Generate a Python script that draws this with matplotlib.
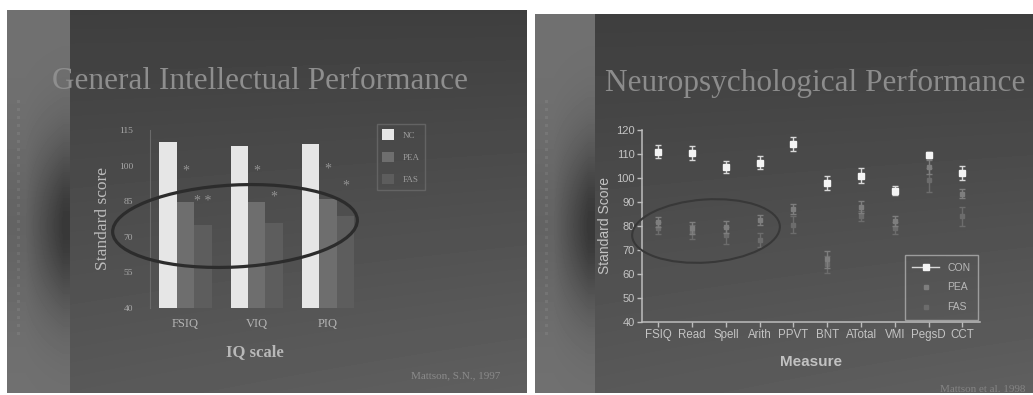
import numpy as np
import matplotlib
matplotlib.use("Agg")
from matplotlib import pyplot as plt
from matplotlib.patches import Ellipse, Patch
from matplotlib.lines import Line2D

W, H = 1033, 395
SERIF = ["Liberation Serif", "DejaVu Serif"]
SANS = ["Liberation Sans", "DejaVu Sans"]

# --- general intellectual performance (bars) ---
iq_scales = ["FSIQ", "VIQ", "PIQ"]
iq_groups = ["NC", "PEA", "FAS"]
iq_nc = [110.0, 108.2, 109.0]
iq_pea = [84.7, 84.5, 86.0]
iq_fas = [74.8, 75.7, 78.8]
iq_ticks = [40, 55, 70, 85, 100, 115]
# significance stars: (scale, group, label, height)
iq_sig = [(0, 1, "*", 97.7), (0, 2, "* *", 85.0), (1, 1, "*", 97.7),
          (1, 2, "*", 86.7), (2, 1, "*", 98.6), (2, 2, "*", 91.4)]

# --- neuropsychological performance (means +/- sem) ---
measures = ["FSIQ", "Read", "Spell", "Arith", "PPVT", "BNT", "ATotal",
            "VMI", "PegsD", "CCT"]
con_mean = [111.0, 110.3, 104.7, 106.4, 114.2, 98.0, 101.0, 94.7, 109.6, 102.0]
con_err = [2.8, 3.0, 2.5, 2.8, 3.0, 3.0, 3.0, 2.0, 1.2, 3.0]
pea_mean = [81.5, 79.0, 79.5, 82.5, 87.0, 66.0, 88.0, 82.0, 104.5, 93.5]
pea_err = [2.0, 2.5, 2.5, 2.0, 2.0, 3.5, 2.5, 2.0, 3.0, 2.0]
fas_mean = [79.0, 77.5, 76.0, 74.0, 80.5, 64.0, 84.0, 79.0, 99.0, 84.0]
fas_err = [2.5, 3.0, 3.5, 3.0, 3.5, 3.5, 2.0, 2.5, 5.0, 4.0]
np_ticks = [40, 50, 60, 70, 80, 90, 100, 110, 120]


def fx(px):
    return px / W


def fy(py):
    return 1 - py / H


def box(x0, y0, x1, y1):
    # pixel box (top-left origin) -> figure rect
    return [fx(x0), fy(y1), fx(x1) - fx(x0), fy(y0) - fy(y1)]


def slide_background():
    img = np.ones((H, W))
    yy, xx = np.mgrid[0:H, 0:W].astype(float)
    for x0, x1, y0, strip in [(7, 527, 10, 70), (535, W, 14, 595)]:
        inside = (xx >= x0) & (xx < x1) & (yy >= y0) & (yy < H - 2)
        t = (yy - y0) / (H - y0)
        main = 0.245 + 0.10 * t + 0.03 * t * (xx - x0) / (x1 - x0)
        band = np.exp(-((yy - 225) / 85) ** 2)
        ramp = np.clip((xx - (x0 + 18)) / (strip - x0 - 25), 0, 1)
        side = 0.44 - 0.05 * band - 0.17 * band * ramp
        val = np.where(xx < strip, side, main)
        img[inside] = val[inside]
        # film-strip perforations
        for yd in range(100, 340, 8):
            img[yd:yd + 3, x0 + 10:x0 + 13] += 0.04
    return img


fig = plt.figure(figsize=(W / 100, H / 100), dpi=100)
fig.patch.set_facecolor("white")

bg = fig.add_axes([0, 0, 1, 1], zorder=0)
bg.imshow(slide_background(), cmap="gray", vmin=0, vmax=1,
          extent=(0, W, H, 0), aspect="auto", interpolation="bilinear")
bg.set_xlim(0, W)
bg.set_ylim(H, 0)
bg.axis("off")

# ---------------- left chart ----------------
ax1 = fig.add_axes(box(150, 130, 360, 308), zorder=1)
ax1.patch.set_alpha(0)
x = np.arange(len(iq_scales))
bw = 0.245
bar_colors = ["#e6e6e6", "#6e6e6e", "#5d5d5d"]
for i, (vals, col) in enumerate(zip([iq_nc, iq_pea, iq_fas], bar_colors)):
    ax1.bar(x + (i - 1) * bw, vals, width=bw, color=col, label=iq_groups[i])
for gi, grp, lab, h in iq_sig:
    ax1.text(gi + (grp - 1) * bw, h, lab, ha="center", va="center",
             fontsize=10, color="#929292", family=SERIF)
ax1.set_xlim(-0.498, 2.45)
ax1.set_ylim(40, 115)
ax1.set_yticks(iq_ticks)
ax1.set_xticks(x)
ax1.set_xticklabels(iq_scales)
for s in ["top", "right", "bottom"]:
    ax1.spines[s].set_visible(False)
ax1.spines["left"].set_color("#6a6a6a")
ax1.spines["left"].set_linewidth(0.8)
ax1.tick_params(axis="y", length=0, pad=12, labelsize=6.8, labelcolor="#a8a8a8")
ax1.tick_params(axis="x", length=0, pad=7, labelsize=9, labelcolor="#b4b4b4")
for lbl in ax1.get_xticklabels() + ax1.get_yticklabels():
    lbl.set_family(SERIF)
ax1.set_xlabel("IQ scale", family=SERIF, fontsize=12, fontweight="bold",
               color="#b8b8b8", labelpad=10)
ax1.set_ylabel("Standard score", family=SERIF, fontsize=12.5,
               color="#bcbcbc", labelpad=6)

handles = [Patch(facecolor=c, edgecolor="none") for c in bar_colors]
fig.legend(handles, iq_groups, loc="upper left",
           bbox_to_anchor=(fx(377), fy(124)), borderaxespad=0,
           frameon=True, fancybox=False, edgecolor="#6a6a6a", facecolor="none",
           prop={"family": SERIF, "size": 6.5}, labelcolor="#9c9c9c",
           handlelength=1.3, handleheight=1.4, labelspacing=1.3,
           handletextpad=0.9, borderpad=0.6)

# ---------------- right chart ----------------
ax2 = fig.add_axes(box(641.7, 130, 980, 321.7), zorder=1)
ax2.patch.set_alpha(0)
xm = np.arange(len(measures))
ax2.errorbar(xm, fas_mean, yerr=fas_err, fmt="s", ms=3.5, color="#6c6c6c",
             mec="#6c6c6c", elinewidth=1.0, capsize=2, capthick=1.0, zorder=2)
ax2.errorbar(xm, pea_mean, yerr=pea_err, fmt="s", ms=3.0, color="#7e7e7e",
             mec="#7e7e7e", elinewidth=1.0, capsize=2, capthick=1.0, zorder=3)
ax2.errorbar(xm, con_mean, yerr=con_err, fmt="s", ms=4.5, color="#d8d8d8",
             mfc="#f4f4f4", mec="#f4f4f4", elinewidth=1.0, capsize=2.5,
             capthick=1.0, zorder=4)
ax2.set_xlim(-0.49, 9.52)
ax2.set_ylim(40, 120)
ax2.set_yticks(np_ticks)
ax2.set_xticks(xm)
ax2.set_xticklabels(measures)
for s in ["top", "right"]:
    ax2.spines[s].set_visible(False)
for s in ["left", "bottom"]:
    ax2.spines[s].set_color("#bdbdbd")
    ax2.spines[s].set_linewidth(1.1)
ax2.tick_params(direction="out", length=3.5, width=1.0, color="#bdbdbd",
                labelsize=8, labelcolor="#c4c4c4", pad=1.5)
ax2.tick_params(axis="x", labelsize=8.3)
for lbl in ax2.get_xticklabels() + ax2.get_yticklabels():
    lbl.set_family(SANS)
ax2.set_xlabel("Measure", family=SANS, fontsize=11, fontweight="bold",
               color="#c2c2c2", labelpad=10)
ax2.set_ylabel("Standard Score", family=SANS, fontsize=10,
               color="#c2c2c2", labelpad=3)

leg_handles = [
    Line2D([], [], color="#d8d8d8", marker="s", ms=4.5, mfc="#f4f4f4",
           mec="#f4f4f4", lw=1.0),
    Line2D([], [], color="none", marker="s", ms=3.0, mfc="#7e7e7e",
           mec="#7e7e7e"),
    Line2D([], [], color="none", marker="s", ms=3.5, mfc="#6c6c6c",
           mec="#6c6c6c"),
]
ax2.legend(leg_handles, ["CON", "PEA", "FAS"], loc="lower right",
           borderaxespad=0.2, frameon=True, fancybox=False,
           edgecolor="#b0b0b0", facecolor="none",
           prop={"family": SANS, "size": 7.5}, labelcolor="#b8b8b8",
           handlelength=2.6, labelspacing=0.95, handletextpad=0.8,
           borderpad=0.7)

# ---------------- titles, notes, highlight rings ----------------
top = fig.add_axes([0, 0, 1, 1], zorder=3)
top.set_xlim(0, W)
top.set_ylim(H, 0)
top.axis("off")
top.patch.set_alpha(0)

top.text(52, 89, "General Intellectual Performance", family=SERIF,
         fontsize=22.5, color="#8e8e8e", ha="left", va="baseline")
top.text(605, 91, "Neuropsychological Performance", family=SERIF,
         fontsize=22.5, color="#8c8c8c", ha="left", va="baseline")
top.text(500, 378, "Mattson, S.N., 1997", family=SERIF, fontsize=8,
         color="#8a8a8a", ha="right", va="baseline")
top.text(1025, 392, "Mattson et al. 1998", family=SERIF, fontsize=8,
         color="#848484", ha="right", va="baseline")

top.add_patch(Ellipse((235, 226), 245, 82, angle=-3, fill=False,
                      ec="#2c2c2c", lw=2.3))
top.add_patch(Ellipse((706, 231), 148, 63, angle=-4, fill=False,
                      ec="#383838", lw=1.5))

fig.savefig("out.png", dpi=100, facecolor="white")
